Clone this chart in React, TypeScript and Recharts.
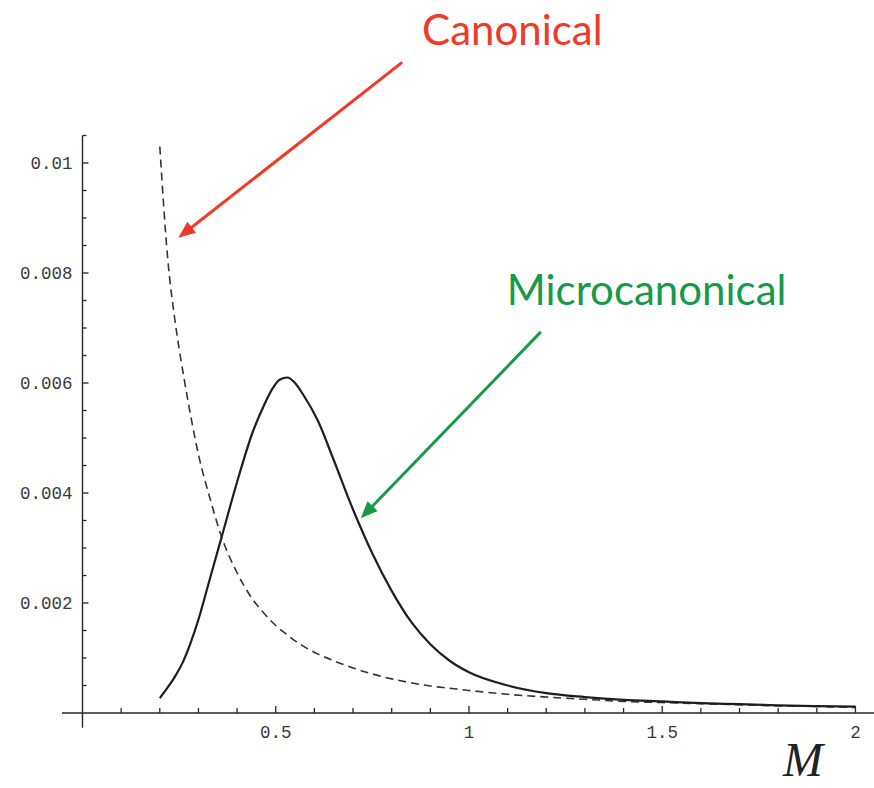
import React from 'react';
import { LineChart, Line, XAxis, YAxis, ReferenceLine, Label } from 'recharts';

// M values (shared grid for both curves)
const mass = [
  0.2, 0.22, 0.24, 0.26, 0.28, 0.3, 0.33, 0.36, 0.4, 0.44, 0.47, 0.49, 0.51, 0.53, 0.55, 0.57, 0.61,
  0.65, 0.7, 0.75, 0.8, 0.85, 0.9, 0.95, 1.0, 1.1, 1.2, 1.3, 1.4, 1.5, 1.6, 1.7, 1.8, 1.9, 2.0,
];

// dashed curve
const canonical = [
  0.0103, 0.0083, 0.0071, 0.0062, 0.0054, 0.0047, 0.0039, 0.0032, 0.00255, 0.00207, 0.00181, 0.00166,
  0.00153, 0.00142, 0.00131, 0.00122, 0.00107, 0.00095, 0.00082, 0.00071, 0.00062, 0.00055, 0.00049,
  0.00045, 0.00041, 0.00034, 0.00029, 0.00025, 0.00021, 0.00019, 0.00017, 0.00015, 0.00013, 0.00012,
  0.0001,
];

// solid curve
const microcanonical = [
  0.00027, 0.00046, 0.00067, 0.00093, 0.00128, 0.0017, 0.00245, 0.0032, 0.0042, 0.0051, 0.0056,
  0.00588, 0.00606, 0.0061, 0.006, 0.0058, 0.0053, 0.0046, 0.0037, 0.0029, 0.00222, 0.00166, 0.00125,
  0.00095, 0.00074, 0.0005, 0.00036, 0.00029, 0.00024, 0.00021, 0.00018, 0.00016, 0.00014, 0.000125,
  0.000115,
];

const xTicks = [
  0.1, 0.2, 0.3, 0.4, 0.5, 0.6, 0.7, 0.8, 0.9, 1, 1.1, 1.2, 1.3, 1.4, 1.5, 1.6, 1.7, 1.8, 1.9, 2,
];
const xLabelled = [0.5, 1, 1.5, 2];

const yTicks = [
  0.0005, 0.001, 0.0015, 0.002, 0.0025, 0.003, 0.0035, 0.004, 0.0045, 0.005, 0.0055, 0.006,
  0.0065, 0.007, 0.0075, 0.008, 0.0085, 0.009, 0.0095, 0.01, 0.0105,
];
const yLabelled = [0.002, 0.004, 0.006, 0.008, 0.01];

const data = mass.map((m, i) => ({ m, canonical: canonical[i], micro: microcanonical[i] }));

const INK = '#262626';
const TICK_FONT = '"Liberation Mono", "DejaVu Sans Mono", monospace';
const NOTE_FONT = 'Lato, "Open Sans", sans-serif';
const RED = '#ee3a26';
const GREEN = '#18994a';

const XTick = (props: any) => {
  const { x, y, payload } = props;
  const major = xLabelled.includes(payload.value);
  return (
    <g>
      <line x1={x} y1={y} x2={x} y2={y - (major ? 7 : 5)} stroke={INK} strokeWidth={1.3} />
      {major && (
        <text x={x} y={y + 25} textAnchor="middle" fontFamily={TICK_FONT} fontSize={17.5} fill="#3a3a3a">
          {String(payload.value)}
        </text>
      )}
    </g>
  );
};

const YTick = (props: any) => {
  const { x, y, payload } = props;
  const major = yLabelled.includes(payload.value);
  return (
    <g>
      <line x1={x} y1={y} x2={x + (major ? 6 : 4)} y2={y} stroke={INK} strokeWidth={1.3} />
      {major && (
        <text x={x - 10} y={y + 6} textAnchor="end" fontFamily={TICK_FONT} fontSize={17.5} fill="#3a3a3a">
          {String(payload.value)}
        </text>
      )}
    </g>
  );
};

const MLabel = (props: any) => {
  const vb = props.viewBox ?? { x: 82.5, y: 713, width: 791.5 };
  return (
    <text
      x={vb.x + vb.width - 91}
      y={vb.y + 63}
      fontFamily='"Liberation Serif", "DejaVu Serif", serif'
      fontStyle="italic"
      fontSize={48}
      fill="#222"
    >
      M
    </text>
  );
};

// arrow from (x1,y1) to tip (x2,y2) with a note written near its tail
const arrow = (color: string, note: string, dx: number, dy: number) => (props: any) => {
  const { x1, y1, x2, y2 } = props;
  const len = Math.hypot(x2 - x1, y2 - y1);
  const ux = (x2 - x1) / len;
  const uy = (y2 - y1) / len;
  const head = 17;
  const half = 7;
  const bx = x2 - ux * head;
  const by = y2 - uy * head;
  return (
    <g>
      <line x1={x1} y1={y1} x2={bx + ux * 2} y2={by + uy * 2} stroke={color} strokeWidth={3} />
      <polygon
        points={`${x2},${y2} ${bx - uy * half},${by + ux * half} ${bx + uy * half},${by - ux * half}`}
        fill={color}
      />
      <text x={x1 + dx} y={y1 + dy} fontFamily={NOTE_FONT} fontSize={42} fill={color}>
        {note}
      </text>
    </g>
  );
};

export default function App() {
  return (
    <div style={{ position: 'absolute', left: 0, top: 0, background: '#fff' }}>
      <LineChart
        width={874}
        height={788}
        data={data}
        margin={{ top: 135.5, right: 0, bottom: 45, left: 22.5 }}
      >
        <XAxis
          type="number"
          dataKey="m"
          domain={[0, 2.048]}
          ticks={xTicks}
          interval={0}
          tickSize={0}
          tickMargin={0}
          axisLine={false}
          tickLine={false}
          tick={XTick}
          height={30}
          allowDataOverflow
        >
          <Label content={MLabel} />
        </XAxis>
        <YAxis
          type="number"
          domain={[0, 0.0105]}
          ticks={yTicks}
          interval={0}
          tickSize={0}
          tickMargin={0}
          axisLine={false}
          tickLine={false}
          tick={YTick}
          width={60}
          allowDataOverflow
        />
        <ReferenceLine
          segment={[{ x: -0.053, y: 0 }, { x: 2.048, y: 0 }]}
          stroke={INK}
          strokeWidth={1.4}
          ifOverflow="visible"
        />
        <ReferenceLine
          segment={[{ x: 0, y: -0.00027 }, { x: 0, y: 0.0105 }]}
          stroke={INK}
          strokeWidth={1.4}
          ifOverflow="visible"
        />
        <Line
          type="monotone"
          dataKey="canonical"
          stroke="#333"
          strokeWidth={1.6}
          strokeDasharray="8 5"
          dot={false}
          activeDot={false}
          isAnimationActive={false}
        />
        <Line
          type="monotone"
          dataKey="micro"
          stroke="#1e1e1e"
          strokeWidth={2.2}
          dot={false}
          activeDot={false}
          isAnimationActive={false}
        />
        <ReferenceLine
          segment={[{ x: 0.827, y: 0.01183 }, { x: 0.248, y: 0.00864 }]}
          ifOverflow="visible"
          shape={arrow(RED, 'Canonical', 20, -17)}
        />
        <ReferenceLine
          segment={[{ x: 1.186, y: 0.00693 }, { x: 0.72, y: 0.00354 }]}
          ifOverflow="visible"
          shape={arrow(GREEN, 'Microcanonical', -34, -27)}
        />
      </LineChart>
    </div>
  );
}
